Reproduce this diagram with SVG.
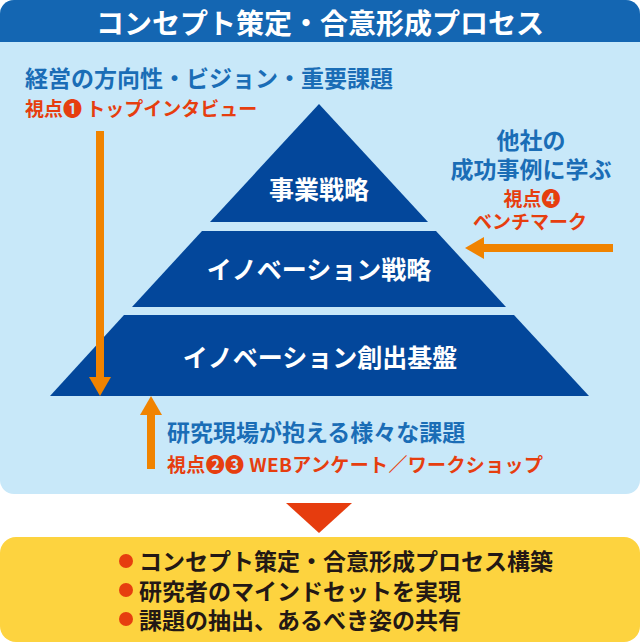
<svg xmlns="http://www.w3.org/2000/svg" width="640" height="642" viewBox="0 0 640 642">
<style>
  text { font-family: "Noto Sans CJK JP", "Noto Sans", sans-serif; font-weight: 700; dominant-baseline: central; }
  .title { fill: #ffffff; font-size: 28px; }
  .tier { fill: #03479b; }
  .tiertext { fill: #ffffff; font-size: 25px; text-anchor: middle; }
  .blue { fill: #1a6db6; font-size: 23px; }
  .red { fill: #e63e0f; font-size: 19px; }
  .dark { fill: #231815; font-size: 23px; }
  .arrow { stroke: #f08300; stroke-width: 8; fill: none; }
  .bullet { fill: #e63e0f; }
</style>
<defs>
  <marker id="ah" markerUnits="userSpaceOnUse" markerWidth="19" markerHeight="22" viewBox="0 0 19 22" refX="1" refY="11" orient="auto">
    <path d="M0,0 L19,11 L0,22 z" fill="#f08300"/>
  </marker>
</defs>

<g id="panel">
  <rect x="0" y="0" width="640" height="494" rx="14" fill="#c8e8f9"/>
  <path d="M0,42 V14 A14,14 0 0 1 14,0 H626 A14,14 0 0 1 640,14 V42 Z" fill="#1466b2"/>
  <text class="title" x="320" y="22" text-anchor="middle">コンセプト策定・合意形成プロセス</text>
</g>

<g id="pyramid">
  <g id="tier1">
    <polygon class="tier" points="319,104 428,222 210,222"/>
    <text class="tiertext" x="319" y="188">事業戦略</text>
  </g>
  <g id="tier2">
    <polygon class="tier" points="202,231 436,231 506,307 132,307"/>
    <text class="tiertext" x="319" y="268">イノベーション戦略</text>
  </g>
  <g id="tier3">
    <polygon class="tier" points="124,315 514,315 589,396 50,396"/>
    <text class="tiertext" x="320" y="356">イノベーション創出基盤</text>
  </g>
</g>

<g id="view1">
  <text class="blue" x="25" y="77">経営の方向性・ビジョン・重要課題</text>
  <text class="red" x="25" y="107">視点❶ トップインタビュー</text>
</g>

<g id="view4">
  <text class="blue" x="531" y="139" text-anchor="middle">他社の</text>
  <text class="blue" x="531" y="168" text-anchor="middle">成功事例に学ぶ</text>
  <text class="red" x="532" y="197" text-anchor="middle">視点❹</text>
  <text class="red" x="530" y="220" text-anchor="middle">ベンチマーク</text>
</g>

<g id="view23">
  <text class="blue" x="167" y="431">研究現場が抱える様々な課題</text>
  <text class="red" x="167" y="463" textLength="376" lengthAdjust="spacing">視点❷❸ WEBアンケート／ワークショップ</text>
</g>

<g id="connectors">
  <line class="arrow" x1="100" y1="131" x2="100" y2="378" marker-end="url(#ah)"/>
  <line class="arrow" x1="151" y1="469" x2="151" y2="414" marker-end="url(#ah)"/>
  <line class="arrow" x1="613" y1="248" x2="483" y2="248" marker-end="url(#ah)"/>
  <polygon points="286,503 352,503 319,533" fill="#e63c0e"/>
</g>

<g id="result">
  <rect x="0" y="537" width="640" height="105" rx="16" fill="#fdd33f"/>
  <circle class="bullet" cx="126" cy="561" r="7"/>
  <circle class="bullet" cx="126" cy="590" r="7"/>
  <circle class="bullet" cx="126" cy="619" r="7"/>
  <text class="dark" x="139" y="560">コンセプト策定・合意形成プロセス構築</text>
  <text class="dark" x="139" y="590">研究者のマインドセットを実現</text>
  <text class="dark" x="139" y="619">課題の抽出、あるべき姿の共有</text>
</g>
</svg>
